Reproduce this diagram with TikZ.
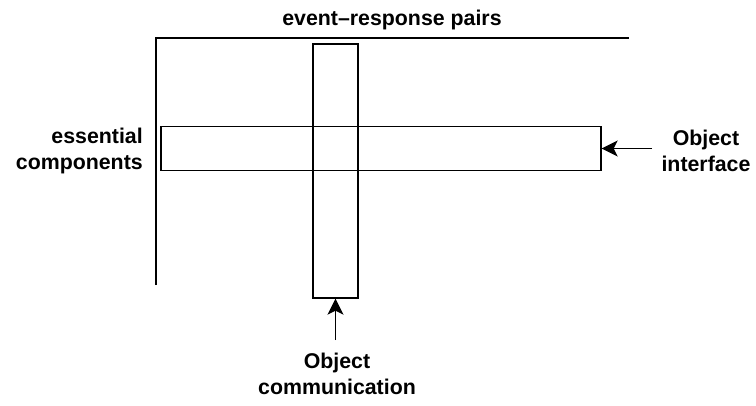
\documentclass[tikz,border=0pt]{standalone}
\usepackage{fontspec}
\setmainfont{Liberation Sans}
\usetikzlibrary{arrows.meta}
\begin{document}
\begin{tikzpicture}
[x=0.75pt,y=-0.75pt,
  bardecorate/.style={shape=rectangle,draw,line width=1pt,inner sep=0pt},%
  linedecorate/.style={-,line width=1pt},%
  arrowdecorate/.style={-{Stealth[length=12pt,width=12pt,inset=3pt]},line width=1pt},%
  textdecorate/.style={font=\bfseries\fontsize{16}{19.5}\selectfont,inner sep=0pt}]
\useasboundingbox (0,0) rectangle (756,405);
%%% axes
\coordinate (o) at (156,38);
\coordinate (ybot) at (156,285);
\coordinate (xend) at (629,38);
\draw[linedecorate] (ybot) -- (o) -- (xend);
\node (pairs) at (392,19.5) [textdecorate] {event--response pairs};
%
%%% the two bars
\node (vbar) at (335.5,171) [bardecorate,minimum width=33.75pt,minimum height=190.5pt] {};
\node (hbar) at (381,148.5) [bardecorate,minimum width=330pt,minimum height=33pt] {};
%
%%% labels
\node (essential) at (143,151) [textdecorate,anchor=east,align=right] {essential\\components};
\node (interface) at (706,151) [textdecorate,align=center] {Object\\interface};
\node (communication) at (337,374) [textdecorate,align=center] {Object\\communication};
%
% arrows
\coordinate (itail) at (652,148.5);
\coordinate (ctail) at (335.5,340);
\path
(itail) edge[arrowdecorate] (hbar.east)
(ctail) edge[arrowdecorate] (vbar.south);
\end{tikzpicture}
\end{document}
